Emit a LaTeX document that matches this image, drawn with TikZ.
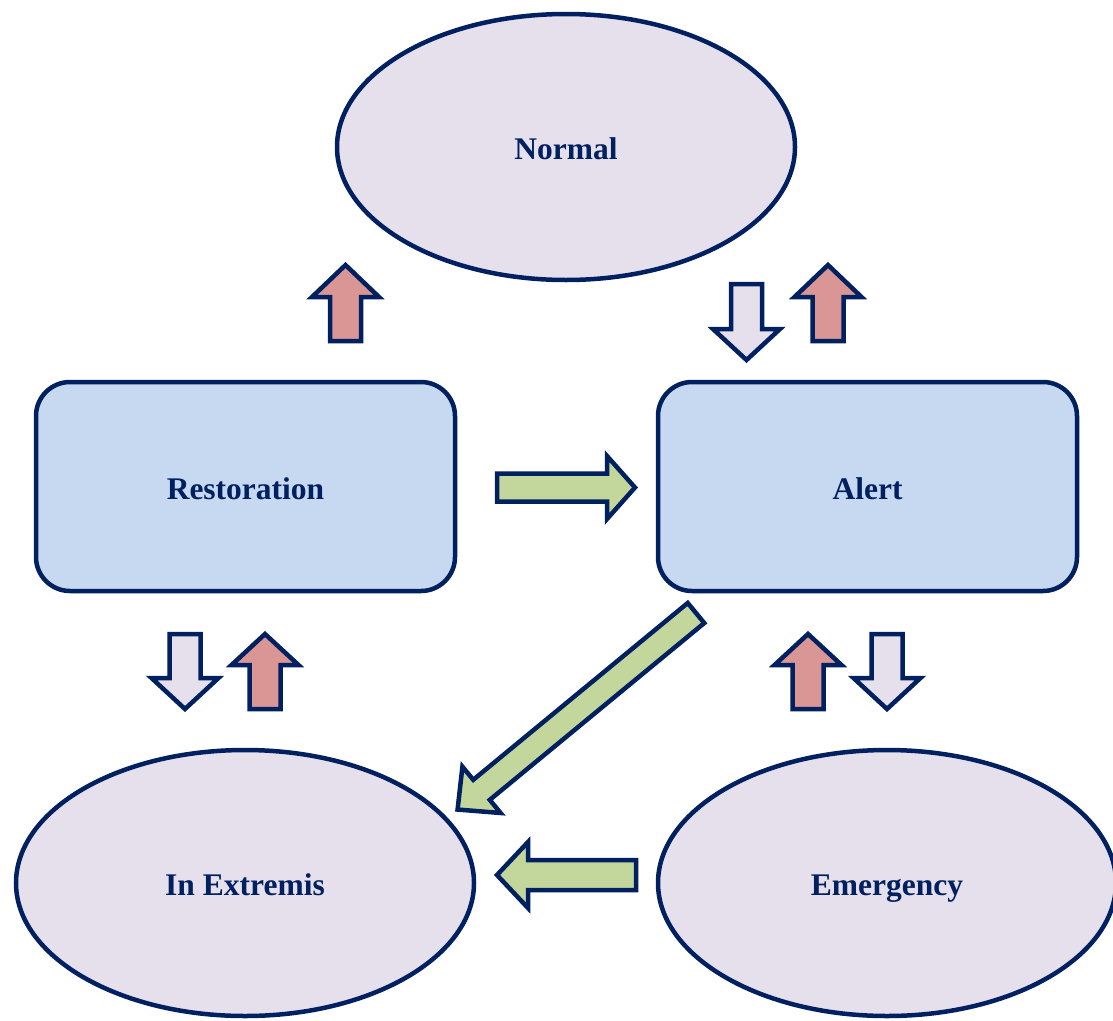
\documentclass[tikz,border=0pt]{standalone}
\usepackage{fontspec}
\setmainfont{Liberation Serif}
\usetikzlibrary{shapes.geometric}
\definecolor{navy}{HTML}{002060}
\definecolor{lilac}{HTML}{E6E0EC}
\definecolor{lightblue}{HTML}{C6D9F1}
\definecolor{rose}{HTML}{D99694}
\definecolor{sage}{HTML}{C3D69B}
\tikzset{
  state/.style={ellipse, draw=navy, line width=4.5pt, fill=lilac, inner sep=0pt,
    minimum width=458pt, minimum height=266pt, text=navy, text height=25pt, text depth=0pt,
    font=\fontsize{31.5}{36}\selectfont\bfseries},
  phase/.style={rectangle, rounded corners=34pt, draw=navy, line width=4.5pt, fill=lightblue,
    inner sep=0pt, minimum width=419pt, minimum height=209pt, text=navy, text height=25pt, text depth=0pt,
    font=\fontsize{31.5}{36}\selectfont\bfseries},
  blockarrow/.style={draw=navy, line width=4.5pt, miter limit=10}
}
% x, y, angle, length, head length, shaft half width, head half width, fill
\newcommand{\barrow}[8]{%
  \draw[blockarrow, fill=#8, shift={(#1,#2)}, rotate=#3]
    (0,-#6) -- ({#4-#5},-#6) -- ({#4-#5},-#7) -- (#4,0) -- ({#4-#5},#7) -- ({#4-#5},#6) -- (0,#6) -- cycle;}
\begin{document}
\begin{tikzpicture}[x=1pt,y=-1pt]
\useasboundingbox (0,0) rectangle (1113,1020);
\node[state] (normal) at (566,147) {Normal};
\node[phase] (restoration) at (245.5,486.5) {Restoration};
\node[phase] (alert) at (867.5,486.5) {Alert};
\node[state] (extremis) at (245,883) {In Extremis};
\node[state] (emergency) at (887,883) {Emergency};
% Normal <-> Restoration / Alert
\barrow{345.5}{341}{90}{76}{32}{15.5}{33.5}{rose}
\barrow{746.5}{284}{-90}{76}{31}{15.5}{33.5}{lilac}
\barrow{828}{341}{90}{76}{32}{15.5}{33.5}{rose}
% Restoration <-> In Extremis
\barrow{185}{634}{-90}{75}{31}{15.5}{33.5}{lilac}
\barrow{265}{709}{90}{75}{31}{15.5}{33.5}{rose}
% Alert <-> Emergency
\barrow{808}{709}{90}{75}{31}{15.5}{33.5}{rose}
\barrow{887}{634}{-90}{75}{31}{15.5}{33.5}{lilac}
% green transitions
\barrow{497}{487.5}{0}{138}{28}{14}{31.5}{sage}
\barrow{636}{875}{180}{139}{31}{15}{33}{sage}
\barrow{696}{613}{219.5}{309}{31}{13}{30}{sage}
\end{tikzpicture}
\end{document}
